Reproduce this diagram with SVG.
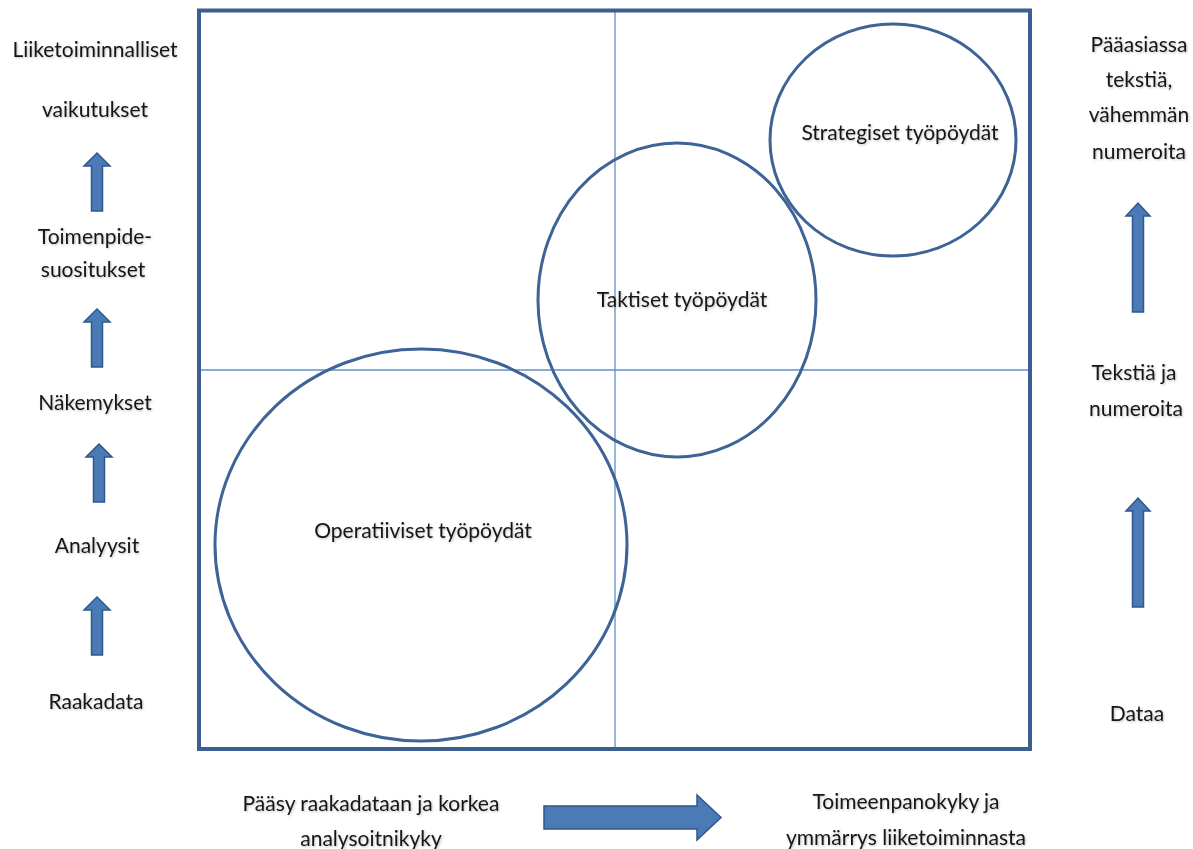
<svg xmlns="http://www.w3.org/2000/svg" width="1193" height="849" viewBox="0 0 1193 849">
  <defs>
    <filter id="txtShadow" x="-5%" y="-20%" width="110%" height="150%">
      <feDropShadow dx="1" dy="1" stdDeviation="0.8" flood-color="#000" flood-opacity="0.25"/>
    </filter>
    <path id="upArrow" d="M-5.5,0 V-45 H-13 L0,-58 L13,-45 H5.5 V0 Z"/>
  </defs>
  <style>
    text { font-family: Lato, "Open Sans", "Liberation Sans", sans-serif; font-size: 21px; fill: #161616; text-anchor: middle; filter: url(#txtShadow); }
    .frame { fill: none; stroke: #3b5f90; stroke-width: 4; }
    .grid { stroke: #5f8fcf; stroke-width: 1.3; }
    .bubble { fill: none; stroke: #3e6396; stroke-width: 3; }
    .arrow { fill: #4a7bb7; stroke: #30578a; stroke-width: 1.5; }
  </style>

  <rect width="1193" height="849" fill="#ffffff"/>

  <!-- quadrant frame -->
  <g id="frame">
    <line class="grid" x1="615" y1="12" x2="615" y2="748"/>
    <line class="grid" x1="201" y1="370" x2="1028" y2="370"/>
    <rect class="frame" x="199" y="10.5" width="831" height="738.5"/>
  </g>

  <!-- dashboards -->
  <g id="operational">
    <ellipse class="bubble" cx="421" cy="545" rx="206" ry="196"/>
    <text x="423" y="538">Operatiiviset työpöydät</text>
  </g>
  <g id="tactical">
    <ellipse class="bubble" cx="677" cy="300" rx="139" ry="157"/>
    <text x="682" y="307">Taktiset työpöydät</text>
  </g>
  <g id="strategic">
    <ellipse class="bubble" cx="893" cy="140" rx="123" ry="116"/>
    <text x="900" y="140">Strategiset työpöydät</text>
  </g>

  <!-- left scale -->
  <g id="left-impact">
    <text x="95" y="57">Liiketoiminnalliset</text>
    <text x="95" y="117">vaikutukset</text>
  </g>
  <g id="left-recommendations">
    <text x="95" y="244">Toimenpide-</text>
    <text x="93" y="277">suositukset</text>
  </g>
  <g id="left-insights">
    <text x="95" y="410">Näkemykset</text>
  </g>
  <g id="left-analyses">
    <text x="97" y="553">Analyysit</text>
  </g>
  <g id="left-raw">
    <text x="96" y="709">Raakadata</text>
  </g>

  <!-- right scale -->
  <g id="right-text">
    <text x="1139" y="52">Pääasiassa</text>
    <text x="1139" y="87">tekstiä,</text>
    <text x="1139" y="122">vähemmän</text>
    <text x="1139" y="159">numeroita</text>
  </g>
  <g id="right-mixed">
    <text x="1134" y="380">Tekstiä ja</text>
    <text x="1136" y="416">numeroita</text>
  </g>
  <g id="right-data">
    <text x="1137" y="721">Dataa</text>
  </g>

  <!-- bottom scale -->
  <g id="bottom-access">
    <text x="371" y="811">Pääsy raakadataan ja korkea</text>
    <text x="371" y="846">analysoitnikyky</text>
  </g>
  <g id="bottom-execution">
    <text x="906" y="809">Toimeenpanokyky ja</text>
    <text x="906" y="845">ymmärrys liiketoiminnasta</text>
  </g>

  <!-- block arrows -->
  <g id="connectors">
    <use href="#upArrow" class="arrow" transform="translate(97,211)"/>
    <use href="#upArrow" class="arrow" transform="translate(97,367)"/>
    <use href="#upArrow" class="arrow" transform="translate(99,502)"/>
    <use href="#upArrow" class="arrow" transform="translate(97,655)"/>
    <path class="arrow" d="M1132.5,312 V216 H1126 L1138,203 L1150,216 H1143.5 V312 Z"/>
    <path class="arrow" d="M1132.5,607 V511 H1126 L1138,498 L1150,511 H1143.5 V607 Z"/>
    <path class="arrow" d="M544,806 H697 V795 L721,817.5 L697,840 V829 H544 Z"/>
  </g>
</svg>
